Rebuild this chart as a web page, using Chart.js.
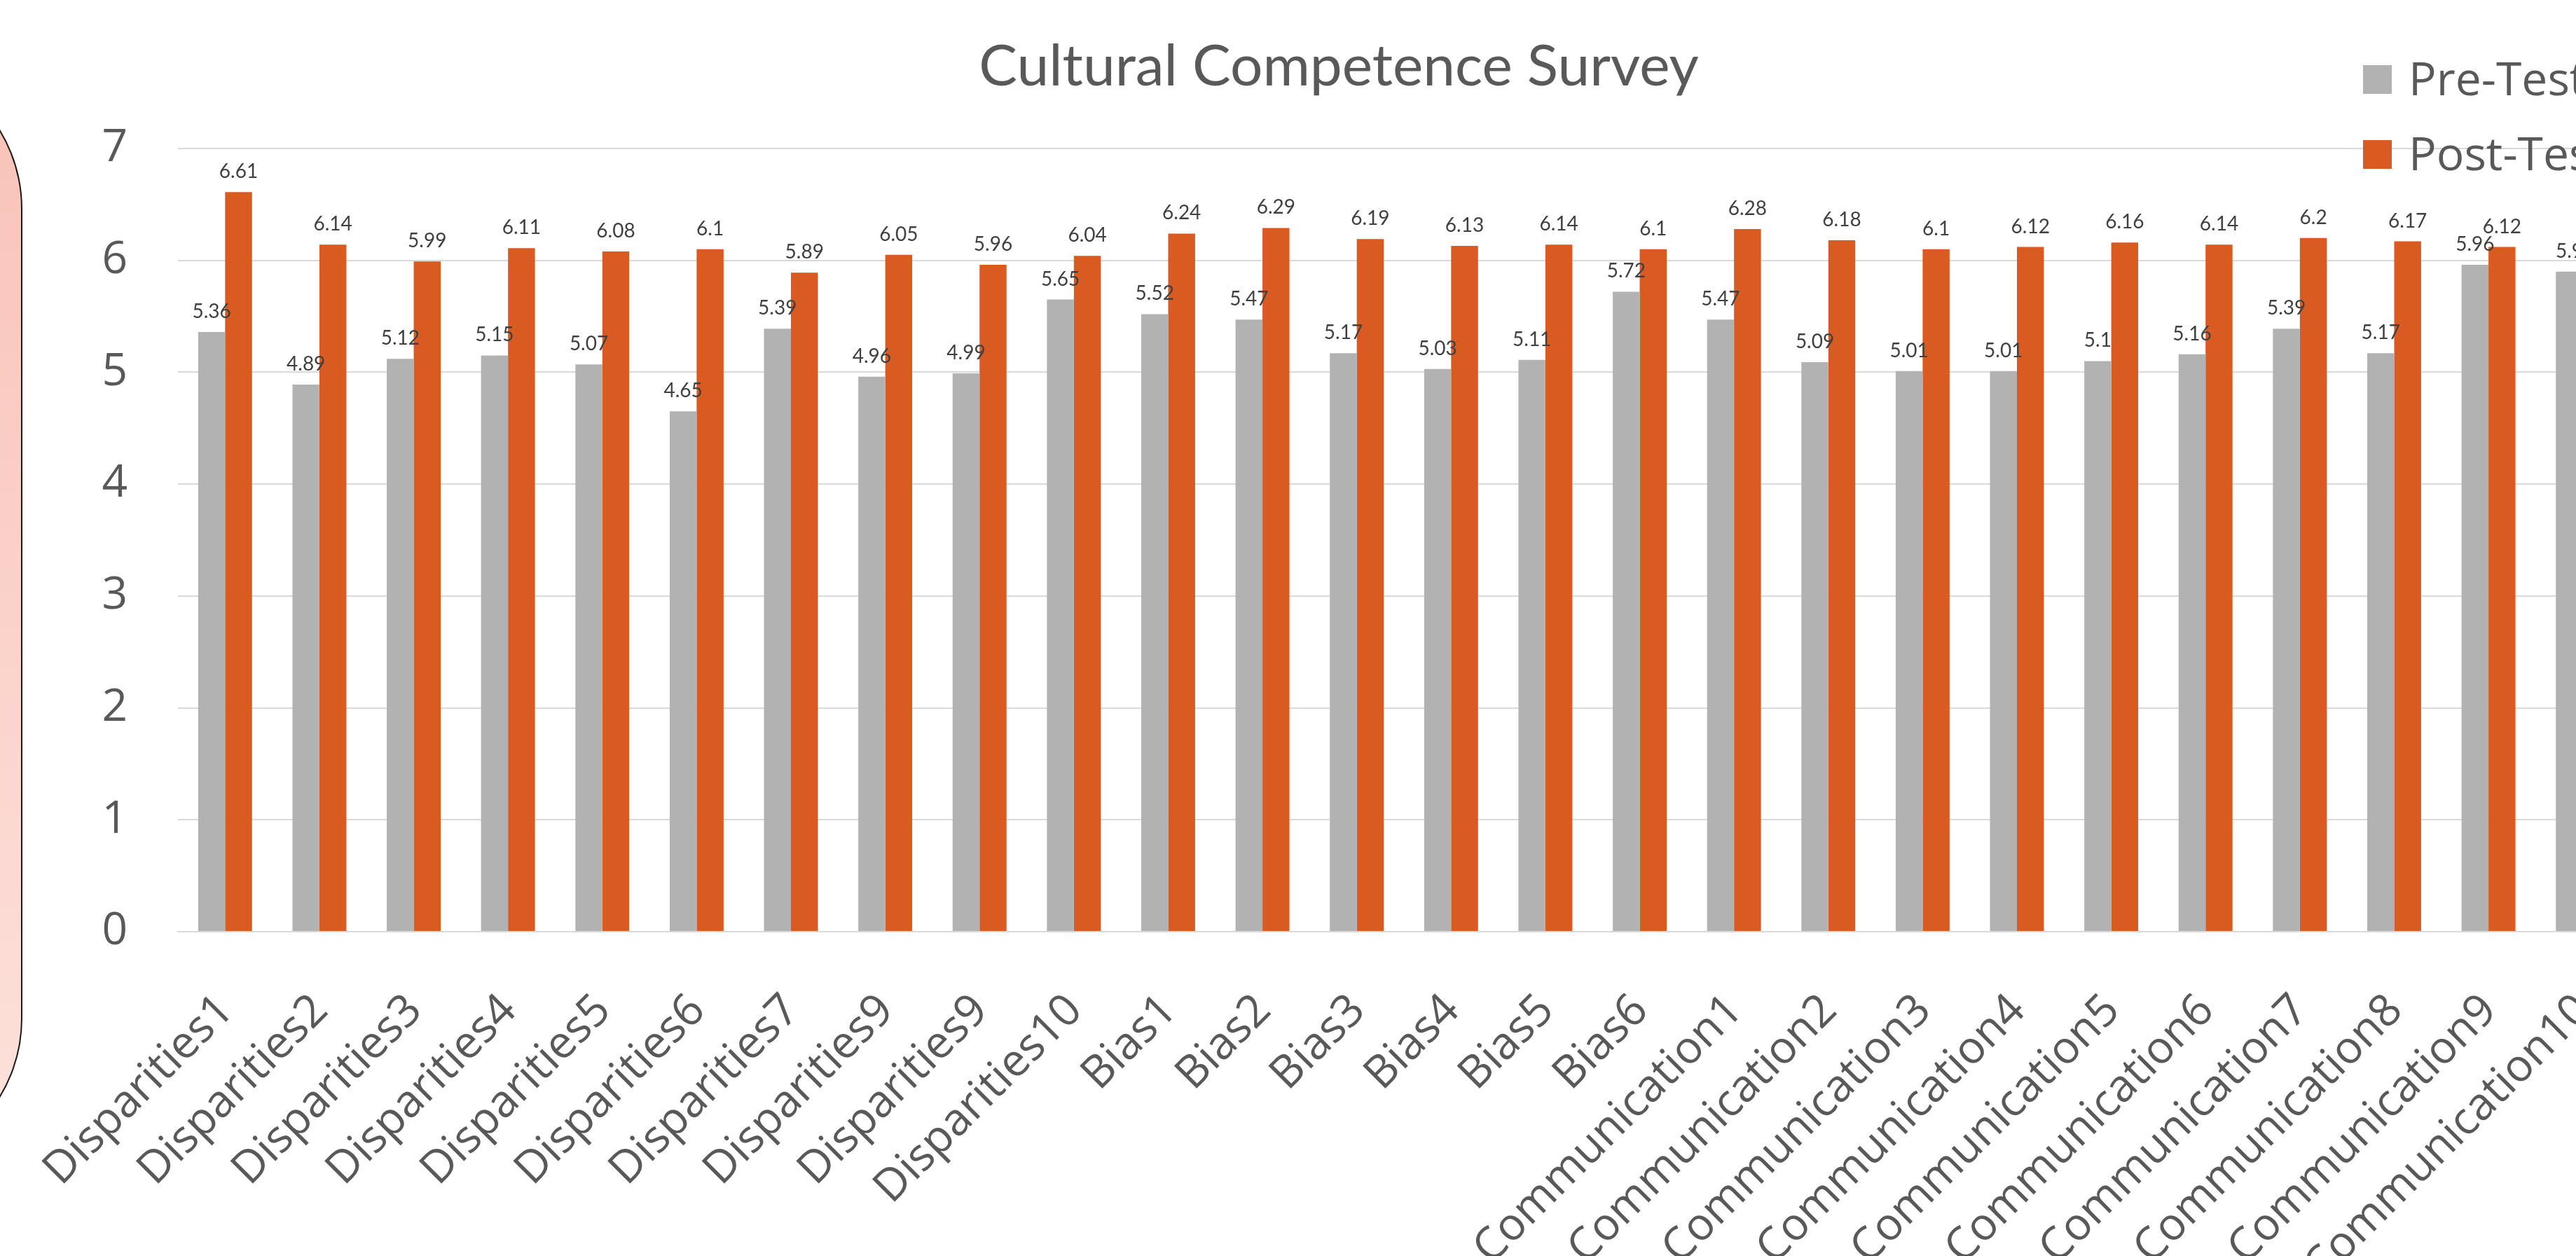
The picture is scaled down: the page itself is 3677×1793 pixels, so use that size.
<!DOCTYPE html>
<html><head><meta charset="utf-8">
<script src="https://cdn.jsdelivr.net/npm/chart.js@4/dist/chart.umd.min.js"></script>
<style>
html,body{margin:0;padding:0;background:#fff;overflow:hidden;width:3677px;height:1793px;}
#wrap{position:absolute;left:0;top:0;width:3822px;height:1900px;}
#deco{position:absolute;left:-400px;top:82px;width:428px;height:1584px;border:2px solid #1a1a1a;border-radius:250px;background:linear-gradient(to bottom,#f8c2b7,#fde2dc);}
</style></head>
<body>
<div id="deco"></div>
<div id="wrap"><canvas id="c" width="3822" height="1900"></canvas></div>
<script>
const categories = ['Disparities1','Disparities2','Disparities3','Disparities4','Disparities5','Disparities6','Disparities7','Disparities9','Disparities9','Disparities10',
  'Bias1','Bias2','Bias3','Bias4','Bias5','Bias6',
  'Communication1','Communication2','Communication3','Communication4','Communication5','Communication6','Communication7','Communication8','Communication9','Communication10'];
const preTest  = [5.36,4.89,5.12,5.15,5.07,4.65,5.39,4.96,4.99,5.65, 5.52,5.47,5.17,5.03,5.11,5.72, 5.47,5.09,5.01,5.01,5.1,5.16,5.39,5.17,5.96,5.9];
const postTest = [6.61,6.14,5.99,6.11,6.08,6.1,5.89,6.05,5.96,6.04, 6.24,6.29,6.19,6.13,6.14,6.1, 6.28,6.18,6.1,6.12,6.16,6.14,6.2,6.17,6.12,6.14];
const yTickLabels = ['0','1','2','3','4','5','6','7'];
const seriesNames = ['Pre-Test','Post-Test'];
const seriesColors = ['#b2b2b2','#d95b21'];
const chartTitle = 'Cultural Competence Survey';

const valueLabels = {
  id:'valueLabels',
  afterDatasetsDraw(chart){
    const ctx = chart.ctx;
    ctx.save();
    ctx.font = '28px Lato';
    ctx.fillStyle = '#404040';
    ctx.textAlign = 'center';
    ctx.textBaseline = 'alphabetic';
    chart.data.datasets.forEach((ds,i)=>{
      const meta = chart.getDatasetMeta(i);
      meta.data.forEach((bar,j)=>{
        ctx.fillText(String(ds.data[j]), bar.x, bar.y - 20);
      });
    });
    ctx.restore();
  }
};
const sideLegend = {
  id:'sideLegend',
  afterDraw(chart){
    const ctx = chart.ctx;
    ctx.save();
    ctx.font = '66px "Open Sans"';
    ctx.textAlign = 'left';
    ctx.textBaseline = 'alphabetic';
    chart.data.datasets.forEach((ds,i)=>{
      const y = 93 + i*107;
      ctx.fillStyle = ds.backgroundColor;
      ctx.fillRect(3373, y, 41, 41);
      ctx.fillStyle = '#595959';
      ctx.fillText(ds.label, 3438, y + 43);
    });
    ctx.restore();
  }
};

function draw(){
  new Chart(document.getElementById('c'), {
    type:'bar',
    data:{labels:categories, datasets:[
      {label:seriesNames[0], data:preTest, backgroundColor:seriesColors[0]},
      {label:seriesNames[1], data:postTest, backgroundColor:seriesColors[1]}]},
    options:{
      responsive:false, animation:false, devicePixelRatio:1,
      layout:{padding:{left:68,right:68,top:0,bottom:0}},
      datasets:{bar:{categoryPercentage:0.5714,barPercentage:1,borderWidth:0}},
      plugins:{
        legend:{display:false}, tooltip:{enabled:false},
        title:{display:true,text:chartTitle,color:'#595959',
          font:{family:'Lato',size:82,weight:'400',lineHeight:1.2},padding:{top:46,bottom:67.6}}
      },
      scales:{
        x:{grid:{display:false,drawTicks:false}, border:{display:true,color:'#d9d9d9',width:2},
           ticks:{color:'#595959',font:{family:'Open Sans',size:64},minRotation:45,maxRotation:45,autoSkip:false,padding:75,labelOffset:2},
           afterFit(s){s.height=570;s.paddingLeft=0;s.paddingRight=0;}},
        y:{min:0,max:7,
           ticks:{stepSize:1,color:'#595959',font:{family:'Open Sans',size:64},padding:72,callback:(v,i)=>yTickLabels[i]},
           grid:{color:'#d9d9d9',lineWidth:2,drawTicks:false}, border:{display:false},
           afterFit(s){s.width=186;s.paddingTop=0;s.paddingBottom=0;}}
      }
    },
    plugins:[valueLabels, sideLegend]
  });
}
Promise.all([
  document.fonts.load('64px "Open Sans"'),
  document.fonts.load('28px Lato'),
  document.fonts.load('82px Lato')
]).then(draw, draw);
</script>
</body></html>
